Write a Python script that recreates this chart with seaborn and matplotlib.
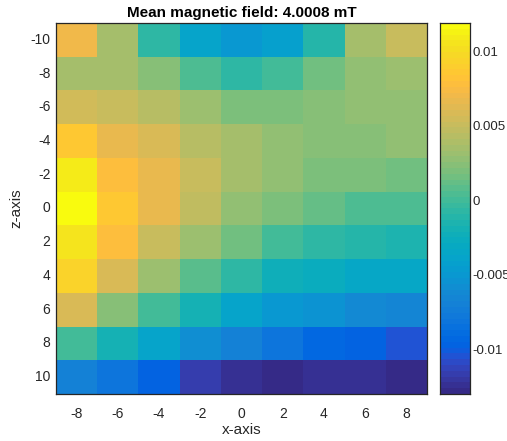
import numpy as np
import pandas as pd
import matplotlib
matplotlib.use("Agg")
import matplotlib.pyplot as plt
from matplotlib.colors import ListedColormap
import seaborn as sns

# grid coordinates
x_vals = [-8, -6, -4, -2, 0, 2, 4, 6, 8]
z_vals = [-10, -8, -6, -4, -2, 0, 2, 4, 6, 8, 10]

# field deviation per row (z = -10 ... 10), columns follow x_vals
row_zm10 = [0.0069, 0.0037, -0.0006, -0.0038, -0.0050, -0.0043, -0.0013, 0.0034, 0.0049]
row_zm8 = [0.0034, 0.0034, 0.0022, 0.0004, -0.0006, -0.0001, 0.0017, 0.0027, 0.0032]
row_zm6 = [0.0054, 0.0049, 0.0042, 0.0032, 0.0019, 0.0019, 0.0024, 0.0029, 0.0029]
row_zm4 = [0.0084, 0.0067, 0.0057, 0.0042, 0.0034, 0.0029, 0.0024, 0.0024, 0.0029]
row_zm2 = [0.0109, 0.0079, 0.0067, 0.0049, 0.0037, 0.0029, 0.0019, 0.0019, 0.0014]
row_z0 = [0.0119, 0.0087, 0.0067, 0.0047, 0.0029, 0.0019, 0.0012, 0.0004, 0.0004]
row_z2 = [0.0107, 0.0079, 0.0052, 0.0032, 0.0014, 0.0002, -0.0008, -0.0013, -0.0015]
row_z4 = [0.0094, 0.0059, 0.0032, 0.0007, -0.0006, -0.0023, -0.0028, -0.0035, -0.0035]
row_z6 = [0.0057, 0.0024, -0.0001, -0.0020, -0.0038, -0.0050, -0.0055, -0.0063, -0.0065]
row_z8 = [-0.0001, -0.0020, -0.0040, -0.0058, -0.0070, -0.0083, -0.0093, -0.0095, -0.0105]
row_z10 = [-0.0070, -0.0080, -0.0095, -0.0115, -0.0126, -0.0130, -0.0124, -0.0124, -0.0129]

cbar_ticks = [-0.01, -0.005, 0, 0.005, 0.01]
cbar_labels = ["-0.01", "-0.005", "0", "0.005", "0.01"]
title_text = "Mean magnetic field: 4.0008 mT"

# parula colormap (64 entries)
_parula = [
    [0.2081, 0.1663, 0.5292], [0.2116, 0.1898, 0.5777], [0.2123, 0.2138, 0.6270],
    [0.2081, 0.2386, 0.6771], [0.1959, 0.2645, 0.7279], [0.1707, 0.2919, 0.7792],
    [0.1253, 0.3242, 0.8303], [0.0591, 0.3598, 0.8683], [0.0117, 0.3875, 0.8820],
    [0.0060, 0.4086, 0.8828], [0.0165, 0.4266, 0.8786], [0.0329, 0.4430, 0.8720],
    [0.0498, 0.4586, 0.8641], [0.0629, 0.4737, 0.8554], [0.0723, 0.4887, 0.8467],
    [0.0779, 0.5040, 0.8384], [0.0793, 0.5200, 0.8312], [0.0749, 0.5375, 0.8263],
    [0.0641, 0.5570, 0.8240], [0.0488, 0.5772, 0.8228], [0.0343, 0.5966, 0.8199],
    [0.0265, 0.6137, 0.8135], [0.0239, 0.6287, 0.8038], [0.0231, 0.6418, 0.7913],
    [0.0228, 0.6535, 0.7768], [0.0267, 0.6642, 0.7607], [0.0384, 0.6743, 0.7436],
    [0.0590, 0.6838, 0.7254], [0.0843, 0.6928, 0.7062], [0.1133, 0.7015, 0.6859],
    [0.1453, 0.7098, 0.6646], [0.1801, 0.7177, 0.6424], [0.2178, 0.7250, 0.6193],
    [0.2586, 0.7317, 0.5954], [0.3022, 0.7376, 0.5712], [0.3482, 0.7424, 0.5473],
    [0.3953, 0.7459, 0.5244], [0.4420, 0.7481, 0.5033], [0.4871, 0.7491, 0.4840],
    [0.5300, 0.7491, 0.4661], [0.5709, 0.7485, 0.4494], [0.6099, 0.7473, 0.4337],
    [0.6473, 0.7456, 0.4188], [0.6834, 0.7435, 0.4044], [0.7184, 0.7411, 0.3905],
    [0.7525, 0.7384, 0.3768], [0.7858, 0.7356, 0.3633], [0.8185, 0.7327, 0.3498],
    [0.8507, 0.7299, 0.3360], [0.8824, 0.7274, 0.3217], [0.9139, 0.7258, 0.3063],
    [0.9450, 0.7261, 0.2886], [0.9739, 0.7314, 0.2666], [0.9938, 0.7455, 0.2403],
    [0.9990, 0.7653, 0.2164], [0.9955, 0.7861, 0.1967], [0.9880, 0.8066, 0.1794],
    [0.9789, 0.8271, 0.1633], [0.9697, 0.8481, 0.1475], [0.9626, 0.8705, 0.1309],
    [0.9589, 0.8949, 0.1132], [0.9598, 0.9218, 0.0948], [0.9661, 0.9514, 0.0755],
    [0.9763, 0.9831, 0.0538],
]
parula = ListedColormap(_parula, name="parula")

field = pd.DataFrame(
    [row_zm10, row_zm8, row_zm6, row_zm4, row_zm2, row_z0,
     row_z2, row_z4, row_z6, row_z8, row_z10],
    index=z_vals, columns=x_vals,
)

sns.set_style("white")
plt.rcParams["font.family"] = ["Liberation Sans", "DejaVu Sans"]

W, H = 507, 441
fig = plt.figure(figsize=(W / 100, H / 100), dpi=100)
ax = fig.add_axes([56 / W, (H - 394) / H, 371 / W, 371 / H])
cax = fig.add_axes([440 / W, (H - 394) / H, 30 / W, 371 / H])

vmin = float(np.min(field.values))
vmax = float(np.max(field.values))

sns.heatmap(field, ax=ax, cbar_ax=cax, cmap=parula, vmin=vmin, vmax=vmax,
            square=False, linewidths=0, rasterized=True)

edge = "#262626"
tick_color = "#262626"
text_color = "#262626"
for side in ["top", "bottom", "left", "right"]:
    ax.spines[side].set_visible(True)
    ax.spines[side].set_color(edge)
    ax.spines[side].set_linewidth(0.9)

ax.tick_params(axis="both", direction="in", length=4, width=0.8, color=tick_color,
               labelsize=10, labelcolor=text_color,
               top=True, right=True, bottom=True, left=True,
               labeltop=False, labelright=False)
ax.set_xticklabels([str(v) for v in x_vals], rotation=0)
ax.set_yticklabels([str(v) for v in z_vals], rotation=0)
ax.tick_params(axis="x", pad=9)
ax.tick_params(axis="y", pad=4)

ax.set_xlabel("x-axis", fontsize=11, color=text_color, labelpad=2)
ax.set_ylabel("z-axis", fontsize=11, color=text_color, labelpad=5)
ax.set_title(title_text, fontsize=11, fontweight="bold", color="black", pad=4)

cax.set_yticks(cbar_ticks)
cax.set_yticklabels(cbar_labels)
cax.tick_params(axis="y", direction="in", length=3, width=0.8, color=tick_color,
                labelsize=9.5, labelcolor=text_color, right=True, left=False, pad=2)
for side in ["top", "bottom", "left", "right"]:
    cax.spines[side].set_visible(True)
    cax.spines[side].set_color(edge)
    cax.spines[side].set_linewidth(0.9)

fig.savefig("out.png", dpi=100, facecolor="white")
